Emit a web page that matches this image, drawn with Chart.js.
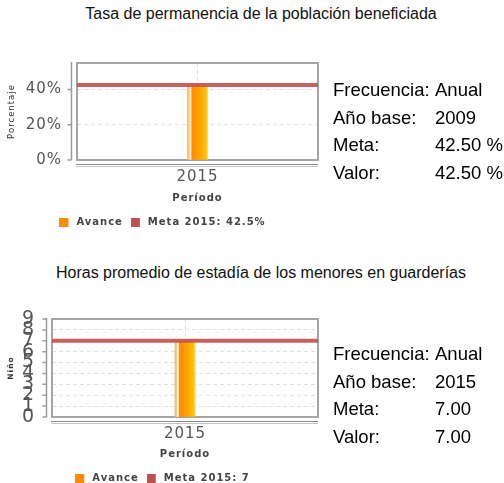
<!DOCTYPE html>
<html><head><meta charset="utf-8">
<script src="https://cdn.jsdelivr.net/npm/chart.js@4/dist/chart.umd.min.js"></script>
<style>
html,body{margin:0;padding:0;background:#fff;}
body{width:504px;height:483px;position:relative;overflow:hidden;font-family:"Liberation Sans",Arial,sans-serif;}
.title{position:absolute;left:0;width:522px;text-align:center;font-size:16px;line-height:18px;color:#111;white-space:nowrap;}
.cw{position:absolute;left:0;width:336px;}
.info{position:absolute;left:333px;font-size:18.5px;color:#000;line-height:27.7px;white-space:nowrap;}
.info .k{display:inline-block;width:102px;}
</style></head>
<body>
<div class="title" style="top:5px">Tasa de permanencia de la población beneficiada</div>
<div class="cw" style="top:50px;height:190px"><canvas id="c1"></canvas></div>
<div class="info" style="top:76px">
<div><span class="k">Frecuencia:</span>Anual</div>
<div><span class="k">Año base:</span>2009</div>
<div><span class="k">Meta:</span>42.50 %</div>
<div><span class="k">Valor:</span>42.50 %</div>
</div>
<div class="title" style="top:264px">Horas promedio de estadía de los menores en guarderías</div>
<div class="cw" style="top:300px;height:196px"><canvas id="c2"></canvas></div>
<div class="info" style="top:340px">
<div><span class="k">Frecuencia:</span>Anual</div>
<div><span class="k">Año base:</span>2015</div>
<div><span class="k">Meta:</span>7.00</div>
<div><span class="k">Valor:</span>7.00</div>
</div>
<script>
// ---- data ----
const categories = ['2015'];
const avance1 = [42.5];
const meta1 = 42.5;
const yTicks1 = [0, 20, 40];
const yMax1 = 55;
const legend1 = ['Avance', 'Meta 2015: 42.5%'];

const avance2 = [7];
const meta2 = 7;
const yTicks2 = [0, 1, 2, 3, 4, 5, 6, 7, 8, 9];
const yMax2 = 9;
const legend2 = ['Avance', 'Meta 2015: 7'];

const ORANGE = '#FF8C00';
const RED = '#C0504D';
const FONT = 'DejaVu Sans';

function legendSwatch(color) {
  const c = document.createElement('canvas');
  c.width = 12; c.height = 9;
  const g = c.getContext('2d');
  g.fillStyle = color;
  g.fillRect(0, 0, 9, 9);
  return c;
}
const swatchOrange = legendSwatch(ORANGE);
const swatchRed = legendSwatch(RED);

function barGradient(c) {
  const chart = c.chart;
  if (!chart.chartArea || !chart.scales.x) return ORANGE;
  const x = chart.scales.x.getPixelForValue(c.dataIndex);
  const w = 20;
  const g = chart.ctx.createLinearGradient(x - w / 2, 0, x + w / 2, 0);
  g.addColorStop(0, '#FFB35C');
  g.addColorStop(0.08, '#FFC98A');
  g.addColorStop(0.12, '#FFF1DE');
  g.addColorStop(0.18, '#FFE2BC');
  g.addColorStop(0.22, '#FF8A00');
  g.addColorStop(0.55, '#FFA000');
  g.addColorStop(0.9, '#FFC000');
  g.addColorStop(1, '#FFCF50');
  return g;
}

const spacingPlugin = {
  id: 'spacing',
  beforeLayout(chart) { chart.ctx.letterSpacing = '1px'; },
  beforeDraw(chart) { chart.ctx.letterSpacing = '1px'; }
};

const framePlugin = {
  id: 'frame',
  beforeDatasetsDraw(chart) {
    const { ctx, chartArea: a, scales } = chart;
    ctx.save();
    ctx.setLineDash([]);
    ctx.strokeStyle = '#a4a4a4';
    ctx.lineWidth = 2;
    ctx.strokeRect(a.left, a.top, a.right - a.left, a.bottom - a.top);
    const ax = a.left - 5.5;
    ctx.strokeStyle = '#9a9a9a';
    ctx.lineWidth = 1.5;
    ctx.beginPath();
    ctx.moveTo(ax, a.top - 1);
    ctx.lineTo(ax, a.bottom);
    scales.y.ticks.forEach(t => {
      const y = scales.y.getPixelForValue(t.value);
      ctx.moveTo(ax - 4, y);
      ctx.lineTo(ax, y);
    });
    ctx.stroke();
    ctx.lineWidth = 1;
    ctx.strokeStyle = '#8a8a8a';
    ctx.beginPath();
    ctx.moveTo(a.left - 1, a.bottom + 4.5);
    ctx.lineTo(a.right, a.bottom + 4.5);
    ctx.stroke();
    ctx.strokeStyle = '#c4c4c4';
    ctx.beginPath();
    ctx.moveTo(a.left - 1, a.bottom + 6.5);
    ctx.lineTo(a.right, a.bottom + 6.5);
    ctx.stroke();
    ctx.restore();
  }
};

function makeChart(id, cfg) {
  const legendLabels = () => [
    { text: cfg.legend[0], fillStyle: ORANGE, strokeStyle: ORANGE, lineWidth: 0, fontColor: '#444', pointStyle: swatchOrange, datasetIndex: 0 },
    { text: cfg.legend[1], fillStyle: RED, strokeStyle: RED, lineWidth: 0, fontColor: '#444', pointStyle: swatchRed, datasetIndex: 1 }
  ];
  return new Chart(document.getElementById(id), {
    data: {
      labels: categories,
      datasets: [
        {
          type: 'bar', label: cfg.legend[0], data: cfg.avance,
          backgroundColor: barGradient, borderWidth: 0, barThickness: 20, grouped: false,
          xAxisID: 'x', yAxisID: 'y', order: 2
        },
        {
          type: 'line', label: cfg.legend[1],
          data: [{ x: 0, y: cfg.meta }, { x: 1, y: cfg.meta }],
          borderColor: 'rgba(196,82,80,0.92)', backgroundColor: RED, borderWidth: 4,
          pointRadius: 0, fill: false, xAxisID: 'x2', yAxisID: 'y', order: 1
        }
      ]
    },
    options: {
      responsive: true, maintainAspectRatio: false, animation: false,
      layout: { padding: { left: 7, top: cfg.padTop, right: 18, bottom: cfg.padBottom } },
      plugins: {
        tooltip: { enabled: false },
        legend: {
          position: 'bottom',
          labels: {
            boxWidth: 12, boxHeight: 9, padding: 8, color: '#444',
            usePointStyle: true, pointStyleWidth: 12,
            font: { family: FONT, size: 10, weight: 'bold' },
            generateLabels: legendLabels
          }
        }
      },
      scales: {
        x: {
          type: 'category', offset: true, position: 'bottom',
          grid: { offset: false, color: '#dedede', drawTicks: true, tickLength: 8, tickColor: 'rgba(0,0,0,0)' },
          border: { display: false, dash: [4, 3] },
          ticks: { font: { family: FONT, size: 15 }, color: '#555', padding: 0, maxRotation: 0 },
          title: { display: true, text: 'Período', color: '#444', font: { family: FONT, size: 10, weight: 'bold', lineHeight: 2 }, padding: { top: cfg.xTitleTop, bottom: 1 } }
        },
        x2: { type: 'linear', min: 0, max: 1, display: false },
        y: {
          min: 0, max: cfg.yMax,
          afterBuildTicks: s => { s.ticks = cfg.yTicks.map(v => ({ value: v })); },
          afterFit: s => { s.width = cfg.yWidth; },
          grid: { color: '#dedede', drawTicks: true, tickLength: cfg.yTickLen, tickColor: 'rgba(0,0,0,0)' },
          border: { display: false, dash: [4, 3] },
          ticks: { font: { family: FONT, size: cfg.yFont }, color: '#555', padding: 0, autoSkip: false, callback: cfg.yFmt },
          title: { display: true, text: cfg.yTitle, color: '#333', font: { family: FONT, size: cfg.yTitleSize, weight: cfg.yTitleWeight }, padding: { top: 0, bottom: 0 } }
        }
      }
    },
    plugins: [spacingPlugin, framePlugin]
  });
}

makeChart('c1', {
  avance: avance1, meta: meta1, yTicks: yTicks1, yMax: yMax1, legend: legend1,
  padTop: 13, padBottom: 3, yWidth: 70, yFont: 15, yTickLen: 15, xTitleTop: 2,
  yFmt: v => v + '%', yTitle: 'Porcentaje', yTitleSize: 8.5, yTitleWeight: 'normal'
});
makeChart('c2', {
  avance: avance2, meta: meta2, yTicks: yTicks2, yMax: yMax2, legend: legend2,
  padTop: 19, padBottom: 3, yWidth: 45, yFont: 19, yTickLen: 17, xTitleTop: 1,
  yFmt: v => String(v), yTitle: 'Niño', yTitleSize: 7.5, yTitleWeight: 'bold'
});
</script>
</body></html>
